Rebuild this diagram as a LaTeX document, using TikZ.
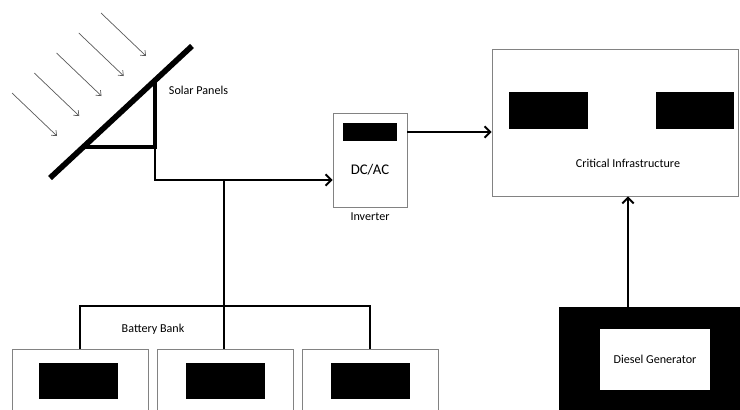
\documentclass[tikz,border=0pt]{standalone}
\usepackage{fontspec}
\setmainfont{Carlito}
\usetikzlibrary{arrows.meta}
\definecolor{boxline}{RGB}{130, 130, 130}
\definecolor{raycolor}{RGB}{90, 90, 90}

\begin{document}
\begin{tikzpicture}[x=0.025cm, y=-0.025cm, >={Straight Barb[length=4pt, width=8pt]},
  box/.style={draw=boxline, line width=0.6pt, fill=white, inner sep=0pt},
  blk/.style={fill=black, inner sep=0pt},
  wire/.style={line width=1.4pt},
  ray/.style={raycolor, line width=0.5pt, -{Straight Barb[length=3pt, width=5pt]}},
  lbl/.style={font=\fontsize{8.6}{10}\selectfont}]

  \useasboundingbox (0,0) rectangle (740,409);
  \clip (0,0) rectangle (740,409);

  % Sun rays
  \foreach \i in {0,...,4}
    \draw[ray] (12+22.25*\i, 93-20*\i) -- ++(45,43);

  % Solar panel and its stand
  \draw[line width=4pt] (50,178) -- (192,46);
  \coordinate (pnl) at (155,147);
  \draw[line width=3pt, line join=miter] (85,147) -- (pnl) -- (155,80);
  \node[lbl, right] (pnllbl) at (164,90) {Solar Panels};

  % Inverter
  \node[box, minimum width=1.85cm, minimum height=2.35cm] (inv) at (370,160) {};
  \node[blk, minimum width=1.35cm, minimum height=0.45cm] (invblk) at (370,132) {};
  \node[font=\fontsize{10.5}{12}\selectfont] (invtxt) at (370,170) {DC/AC};
  \node[lbl] (invlbl) at (370,217) {Inverter};

  % Critical infrastructure
  \node[box, minimum width=6.15cm, minimum height=3.675cm] (ci) at (615,122.5) {};
  \node[blk, minimum width=1.975cm, minimum height=0.925cm] (ciblka) at (548.5,110.5) {};
  \node[blk, minimum width=1.95cm, minimum height=0.925cm] (ciblkb) at (695,110.5) {};
  \node[lbl] (cilbl) at (628,163) {Critical Infrastructure};

  % Diesel generator
  \node[blk, minimum width=4.65cm, minimum height=2.65cm] (gen) at (652,360) {};
  \node[fill=white, inner sep=0pt, minimum width=2.75cm, minimum height=1.525cm,
        lbl] (genlbl) at (655,359.5) {Diesel Generator};

  % Battery bank
  \node[box, minimum width=3.4cm, minimum height=1.75cm] (bata) at (80,384) {};
  \node[box, minimum width=3.4cm, minimum height=1.75cm] (batb) at (225,384) {};
  \node[box, minimum width=3.4cm, minimum height=1.75cm] (batc) at (370,384) {};
  \node[blk, minimum width=1.975cm, minimum height=0.9cm] (blka) at (78.5,381) {};
  \node[blk, minimum width=1.975cm, minimum height=0.9cm] (blkb) at (225.5,381) {};
  \node[blk, minimum width=1.975cm, minimum height=0.9cm] (blkc) at (370.5,381) {};
  \node[lbl] (batlbl) at (153,329) {Battery Bank};

  % Wiring
  \coordinate (jct) at (224,180);
  \coordinate (bus) at (224,306);
  \draw[wire] (pnl) |- (jct);
  \draw[wire, ->] (jct) -- (jct -| inv.west);
  \draw[wire] (jct) -- (jct |- batb.north);
  \draw[wire] (bata.north) |- (bus) -| (batc.north);
  \draw[wire, ->] (invblk -| inv.east) -- (invblk -| ci.west);
  \coordinate (gentap) at (628,307);
  \draw[wire, ->] (gentap) -- (gentap |- ci.south);

\end{tikzpicture}
\end{document}
